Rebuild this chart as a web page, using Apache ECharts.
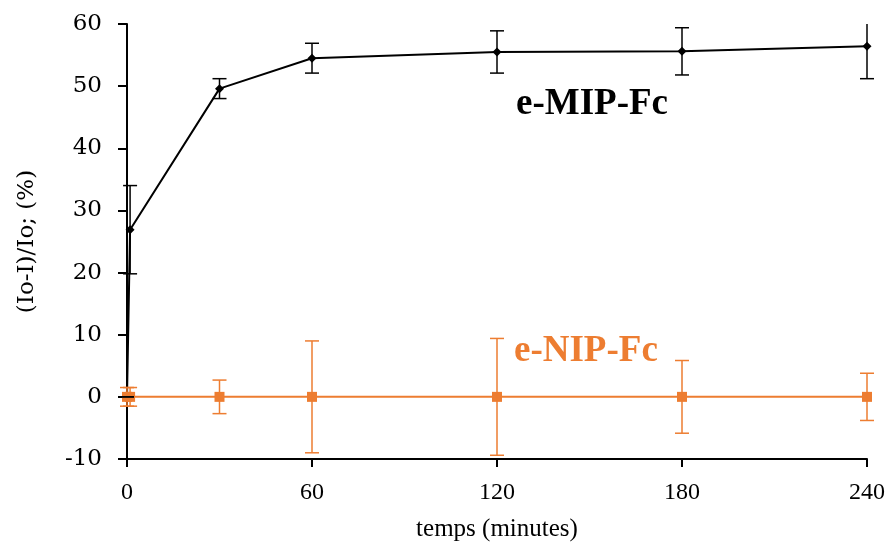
<!DOCTYPE html>
<html>
<head>
<meta charset="utf-8">
<script src="https://cdn.jsdelivr.net/npm/echarts@6/dist/echarts.min.js"></script>
<style>html,body{margin:0;padding:0;background:#fff;}#c{width:892px;height:542px;}</style>
</head>
<body>
<div id="c"></div>
<script>
var times = [0, 1, 30, 60, 120, 180, 240];
var mipValues = [0, 26.9, 49.6, 54.5, 55.5, 55.6, 56.4];
var mipErrors = [0, 7.1, 1.6, 2.4, 3.4, 3.8, 5.2];
var nipValues = [0, 0, 0, 0, 0, 0, 0];
var nipErrors = [1.5, 1.5, 2.7, 9.0, 9.4, 5.85, 3.8];
var xTicks = [0, 60, 120, 180, 240];
var yTicks = [-10, 0, 10, 20, 30, 40, 50, 60];
var mipLabel = 'e-MIP-Fc';
var nipLabel = 'e-NIP-Fc';

var ORANGE = '#ED7D31';
var Y_MIN = yTicks[0], Y_MAX = yTicks[yTicks.length - 1];

function pairs(vals) { return times.map(function (t, i) { return [t, vals[i]]; }); }
function errData(vals, errs) {
  return times.map(function (t, i) { return [t, vals[i] - errs[i], vals[i] + errs[i]]; });
}
function errRender(color, capHalf) {
  return function (params, api) {
    var x = api.value(0);
    var loV = api.value(1), hiV = api.value(2);
    var lo = api.coord([x, Math.max(loV, Y_MIN)]);
    var hi = api.coord([x, Math.min(hiV, Y_MAX)]);
    var st = { stroke: color, lineWidth: 1.5 };
    var ch = [{ type: 'line', shape: { x1: lo[0], y1: lo[1], x2: hi[0], y2: hi[1] }, style: st }];
    if (loV >= Y_MIN) ch.push({ type: 'line', shape: { x1: lo[0] - capHalf, y1: lo[1], x2: lo[0] + capHalf, y2: lo[1] }, style: st });
    if (hiV <= Y_MAX) ch.push({ type: 'line', shape: { x1: hi[0] - capHalf, y1: hi[1], x2: hi[0] + capHalf, y2: hi[1] }, style: st });
    return { type: 'group', children: ch };
  };
}

var chart = echarts.init(document.getElementById('c'));
chart.setOption({
  animation: false,
  backgroundColor: '#fff',
  grid: { left: 127, right: 25, top: 24, bottom: 83, containLabel: false, outerBoundsMode: 'none' },
  xAxis: {
    type: 'value', min: xTicks[0], max: xTicks[xTicks.length - 1], interval: 60,
    name: 'temps (minutes)', nameLocation: 'middle', nameGap: 58,
    nameTextStyle: { fontFamily: 'Liberation Serif', fontSize: 25, color: '#000' },
    axisLine: { show: true, onZero: false, lineStyle: { color: '#000', width: 2 } },
    axisTick: { show: true, inside: false, length: 8, lineStyle: { color: '#000', width: 2 } },
    axisLabel: { margin: 22, fontFamily: 'Liberation Serif', fontSize: 24, color: '#000' },
    splitLine: { show: false }
  },
  yAxis: {
    type: 'value', min: Y_MIN, max: Y_MAX, interval: 10,
    name: '(Io-I)/Io; (%)', nameLocation: 'middle', nameGap: 88, nameRotate: 90,
    nameTextStyle: { fontFamily: 'DejaVu Serif', fontSize: 23, color: '#000' },
    axisLine: { show: true, onZero: false, lineStyle: { color: '#000', width: 2 } },
    axisTick: { show: true, inside: false, length: 9, lineStyle: { color: '#000', width: 2 } },
    axisLabel: { margin: 25, fontFamily: 'DejaVu Serif', fontSize: 23, color: '#000' },
    splitLine: { show: false }
  },
  series: [
    {
      type: 'line', name: nipLabel, data: pairs(nipValues),
      symbol: 'rect', symbolSize: 10, showSymbol: true,
      lineStyle: { color: ORANGE, width: 2 }, itemStyle: { color: ORANGE },
      z: 3
    },
    {
      type: 'custom', name: 'nipErr', data: errData(nipValues, nipErrors),
      renderItem: errRender(ORANGE, 7), clip: false, z: 4,
      encode: { x: 0, y: [1, 2] }
    },
    {
      type: 'line', name: mipLabel, data: pairs(mipValues),
      symbol: 'diamond', symbolSize: 9, showSymbol: true,
      lineStyle: { color: '#000', width: 2 }, itemStyle: { color: '#000' },
      z: 2
    },
    {
      type: 'custom', name: 'mipErr', data: errData(mipValues, mipErrors),
      renderItem: errRender('#000', 7), clip: false, z: 4,
      encode: { x: 0, y: [1, 2] }
    }
  ],
  graphic: [
    { type: 'text', left: 516, top: 86, style: { text: mipLabel, fontFamily: 'Liberation Serif', fontWeight: 'bold', fontSize: 37, fill: '#000' } },
    { type: 'text', left: 514, top: 333, style: { text: nipLabel, fontFamily: 'Liberation Serif', fontWeight: 'bold', fontSize: 37, fill: ORANGE } }
  ]
});
</script>
</body>
</html>
